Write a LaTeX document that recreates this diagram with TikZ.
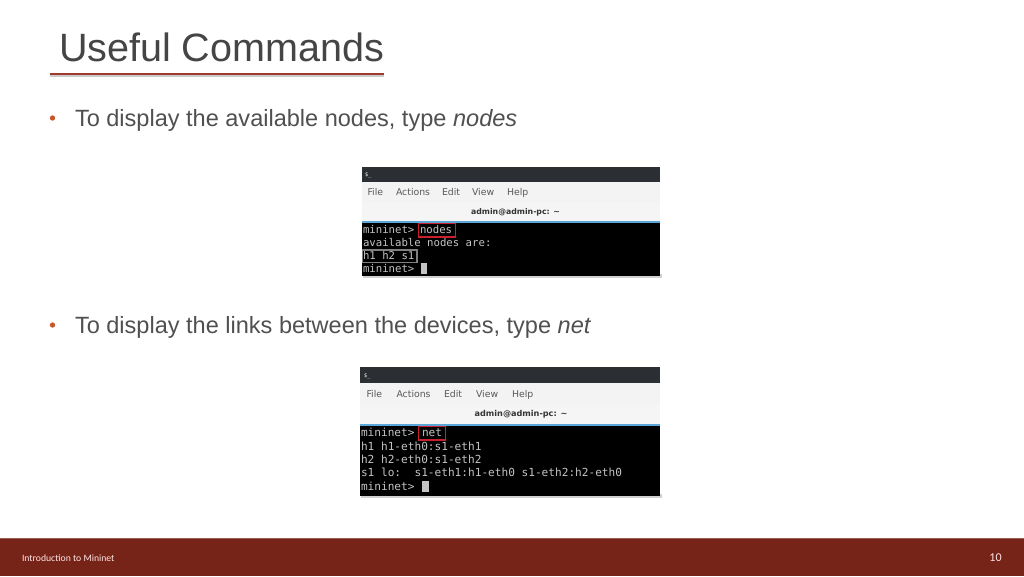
\documentclass[tikz,border=0pt]{standalone}
\usepackage{fontspec}
\setmainfont{Liberation Sans}
\newfontfamily\termfont{DejaVu Sans Mono}
\newfontfamily\uifont{DejaVu Sans}
\newfontfamily\footfont{Carlito}
\definecolor{footerred}{HTML}{772418}
\definecolor{rulered}{HTML}{9E3A2E}
\definecolor{bulletor}{HTML}{C9552B}
\definecolor{titlegray}{HTML}{454545}
\definecolor{bodygray}{HTML}{505050}
\definecolor{termtxt}{HTML}{C4C4C4}
\definecolor{menubg}{HTML}{F3F3F3}
\definecolor{barbg}{HTML}{2B2F33}
\definecolor{linkblue}{HTML}{5AA6D6}
\definecolor{boxred}{HTML}{C8202C}
\tikzset{
  txt/.style={inner sep=0pt,outer sep=0pt,anchor=base west},
  bodytxt/.style={txt,text=bodygray,font=\fontsize{17.65}{20}\selectfont},
  bullet/.style={circle,fill=bulletor,inner sep=0pt,minimum size=4pt},
  term/.style={txt,text=termtxt},
  menu/.style={txt,text=black!65,font=\uifont\fontsize{7}{8}\selectfont},
  wintitle/.style={inner sep=0pt,text=black!80,font=\uifont\bfseries},
  redbox/.style={draw=boxred,line width=1.3pt},
  graybox/.style={draw=black!50!white,line width=1pt}
}
\begin{document}
\begin{tikzpicture}[x=0.75pt,y=-0.75pt]
\useasboundingbox (0,0) rectangle (1024,576);
\fill[white] (0,0) rectangle (1024,576);
% title
\node[txt,text=titlegray,font=\fontsize{29.65}{32}\selectfont] (title) at (59,61) {Useful Commands};
\fill[black!20] (50,74.5) rectangle (384,76.5);
\fill[rulered] (50,72.5) rectangle (384,75);
% bullets
\node[bullet] (b1) at (52.5,118) {};
\node[bodytxt] (t1) at (75,126) {To display the available nodes, type \textit{nodes}};
\node[bullet] (b2) at (52.5,325) {};
\node[bodytxt] (t2) at (75,333) {To display the links between the devices, type \textit{net}};
% first screenshot
\fill[black!18] (363,274) rectangle (661.5,278);
\fill[barbg] (362,167) rectangle (660,182);
\fill[menubg] (362,182) rectangle (660,202);
\fill[white!96!black] (362,202) rectangle (660,221);
\fill[linkblue] (362,221) rectangle (660,223);
\fill[black] (362,223) rectangle (660,276);
\node[txt,text=white,font=\termfont\fontsize{4}{5}\selectfont] (i1) at (365,176) {\$\_};
\node[menu] (m1a) at (367.5,195) {File};
\node[menu] (m1b) at (396,195) {Actions};
\node[menu] (m1c) at (442,195) {Edit};
\node[menu] (m1d) at (472,195) {View};
\node[menu] (m1e) at (507,195) {Help};
\node[wintitle] (w1) at (515.5,212) {\fontsize{5.85}{7}\selectfont admin@admin-pc: \textasciitilde};
\begin{scope}[every node/.append style={font=\termfont\fontsize{8}{9}\selectfont}]
\node[term] (a1) at (363,233.5) {mininet>};
\node[term] (a2) at (420,233.5) {nodes};
\node[term] (a3) at (363,246.5) {available nodes are:};
\node[term] (a4) at (363,259.5) {h1 h2 s1};
\node[term] (a5) at (363,272) {mininet>};
\end{scope}
\fill[termtxt] (421,263) rectangle (427,274);
\draw[redbox] (418.5,223.5) rectangle (455.5,237);
\draw[graybox] (362.5,250) rectangle (417,262.5);
% second screenshot
\fill[black!18] (361,494) rectangle (661.5,498);
\fill[barbg] (360,367) rectangle (660,383);
\fill[menubg] (360,383) rectangle (660,405);
\fill[white!96!black] (360,405) rectangle (660,424);
\fill[linkblue] (360,424) rectangle (660,426);
\fill[black] (360,426) rectangle (660,496);
\node[txt,text=white,font=\termfont\fontsize{4}{5}\selectfont] (i2) at (364,377) {\$\_};
\node[menu] (m2a) at (366.5,397) {File};
\node[menu] (m2b) at (396.5,397) {Actions};
\node[menu] (m2c) at (444,397) {Edit};
\node[menu] (m2d) at (476,397) {View};
\node[menu] (m2e) at (512,397) {Help};
\node[wintitle] (w2) at (521,414) {\fontsize{6.1}{7}\selectfont admin@admin-pc: \textasciitilde};
\begin{scope}[every node/.append style={font=\termfont\fontsize{8.34}{9}\selectfont}]
\node[term] (c1) at (361,436.5) {mininet>};
\node[term] (c2) at (422,436.5) {net};
\node[term] (c3) at (361,450) {h1 h1-eth0:s1-eth1};
\node[term] (c4) at (361,463.5) {h2 h2-eth0:s1-eth2};
\node[term] (c5) at (361,476.5) {s1 lo:\ \ s1-eth1:h1-eth0 s1-eth2:h2-eth0};
\node[term] (c6) at (361,490) {mininet>};
\end{scope}
\fill[termtxt] (422,481) rectangle (429,492);
\draw[redbox] (418.5,426.5) rectangle (445.5,440);
% footer
\fill[footerred] (0,538) rectangle (1024,576);
\fill[footerred!75!white] (0,537.5) rectangle (1024,538.5);
\node[txt,text=white!90!red,font=\footfont\fontsize{7.27}{8}\selectfont] (ft) at (22,561) {Introduction to Mininet};
\node[inner sep=0pt,text=white!90!red,font=\footfont\fontsize{9}{10}\selectfont] (pg) at (995.5,558) {10};
\end{tikzpicture}
\end{document}
